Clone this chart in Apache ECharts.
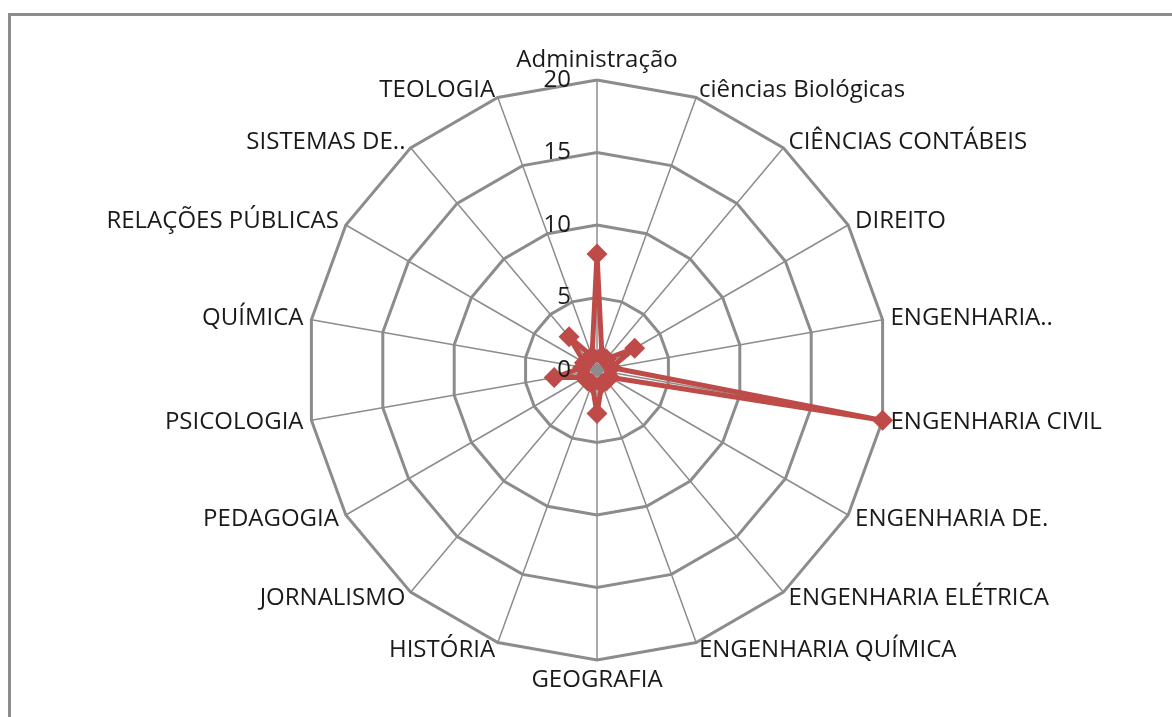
<!DOCTYPE html>
<html>
<head>
<meta charset="utf-8">
<script src="https://cdn.jsdelivr.net/npm/echarts@6/dist/echarts.min.js"></script>
<style>
  html, body { margin: 0; padding: 0; background: #fff; }
  #frame { position: absolute; left: 8px; top: 13px; width: 1180px; height: 720px; border-left: 3px solid #8c8c8c; border-top: 3px solid #8c8c8c; }
  #chart { width: 1172px; height: 717px; position: absolute; left: 0; top: 0; }
</style>
</head>
<body>
<div id="frame"></div>
<div id="chart"></div>
<script>
// cursos (ordem do gráfico, sentido horário a partir do topo)
const cursos = [
  'Administração', 'ciências Biológicas', 'CIÊNCIAS CONTÁBEIS', 'DIREITO',
  'ENGENHARIA..', 'ENGENHARIA CIVIL', 'ENGENHARIA DE.', 'ENGENHARIA ELÉTRICA',
  'ENGENHARIA QUÍMICA', 'GEOGRAFIA', 'HISTÓRIA', 'JORNALISMO', 'PEDAGOGIA',
  'PSICOLOGIA', 'QUÍMICA', 'RELAÇÕES PÚBLICAS', 'SISTEMAS DE..', 'TEOLOGIA'
];
const valores = [8, 1, 1, 3, 1, 20, 1, 1, 1, 3, 1, 1, 1, 3, 1, 1, 3, 1];
const zeros = [0, 0, 0, 0, 0, 0, 0, 0, 0, 0, 0, 0, 0, 0, 0, 0, 0, 0];
const escala = [0, 5, 10, 15, 20];

// o radar do ECharts gira no sentido anti-horário: inverte tudo menos o primeiro
const horario = arr => [arr[0]].concat(arr.slice(1).reverse());

const myChart = echarts.init(document.getElementById('chart'));
const fonte = '"Open Sans", sans-serif';

myChart.setOption({
  animation: false,
  radar: {
    center: [597, 370],
    radius: 290,
    startAngle: 90,
    shape: 'polygon',
    splitNumber: 4,
    indicator: horario(cursos).map(n => ({ name: n, min: 0, max: escala[escala.length - 1] })),
    axisName: { color: '#1a1a1a', fontSize: 24, fontFamily: fonte },
    nameGap: 8,
    splitArea: { show: false },
    splitLine: { lineStyle: { color: '#8c8c8c', width: 3 } },
    axisLine: { lineStyle: { color: '#8c8c8c', width: 1.5 } },
    axisTick: { show: false },
    axisLabel: { show: false }
  },
  polar: { center: [597, 370], radius: 290 },
  angleAxis: { show: false, startAngle: 90, min: 0, max: 360 },
  radiusAxis: {
    z: 10,
    min: escala[0], max: escala[escala.length - 1], interval: 5,
    axisLine: { show: false }, axisTick: { show: false }, splitLine: { show: false },
    axisLabel: { color: '#1a1a1a', fontSize: 24, fontFamily: fonte, margin: 26 }
  },
  series: [
    {
      type: 'radar',
      symbol: 'diamond',
      symbolSize: 21,
      lineStyle: { color: '#be4b48', width: 5 },
      itemStyle: { color: '#be4b48' },
      data: [{ value: horario(valores) }]
    },
    {
      type: 'radar',
      symbol: 'diamond',
      symbolSize: 14,
      lineStyle: { color: '#8c8c8c', width: 3 },
      itemStyle: { color: '#8c8c8c' },
      data: [{ value: zeros }]
    }
  ]
});
</script>
</body>
</html>
